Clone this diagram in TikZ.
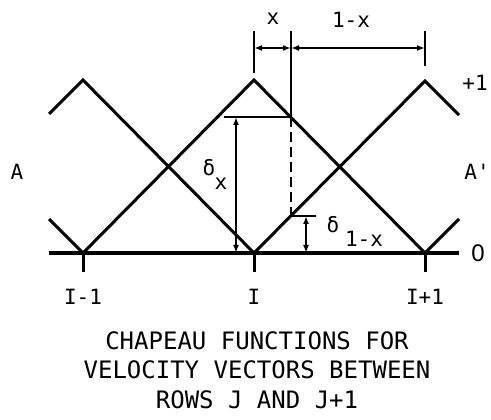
\documentclass[tikz,border=0pt]{standalone}
\usepackage{fontspec}
\setmonofont{DejaVu Sans Mono}
\newfontfamily\plainzero{Liberation Sans}
\usetikzlibrary{arrows.meta}
\begin{document}
\begin{tikzpicture}[x=1pt,y=-1pt,
  hat/.style={line width=3pt,line join=miter},
  dim/.style={line width=2pt},
  tipboth/.style={dim,{Latex[length=8pt,width=6pt]}-{Latex[length=8pt,width=6pt]}},
  lab/.style={font=\ttfamily\fontsize{21}{23}\selectfont,inner sep=0pt},
  captxt/.style={font=\ttfamily\fontsize{24}{29.5}\selectfont,align=center,inner sep=0pt}]
\useasboundingbox (0,0) rectangle (491,420);
% base points
\coordinate (BL) at (49,253);
\coordinate (BR) at (459,253);
\coordinate (Im) at (83,253);
\coordinate (I0) at (254,253);
\coordinate (Ip) at (425,253);
\coordinate (Tm) at (83,80);
\coordinate (T0) at (254,80);
\coordinate (Tp) at (425,81);
\coordinate (LA) at (49,114);
\coordinate (LB) at (49,219);
\coordinate (RA) at (459,115);
\coordinate (RB) at (459,219);
\coordinate (P) at (291,117);
\coordinate (Q) at (291,216);
% baseline and ticks
\draw[line width=3.4pt] (BL) -- (BR);
\foreach \n in {Im,I0,Ip} \draw[line width=3pt] (\n) -- ++(0,19);
% hats
\draw[hat] (LA) -- (Tm) -- (I0);
\draw[hat] (LB) -- (Im);
\draw[hat] (Im) -- (T0) -- (Ip);
\draw[hat] (I0) -- (Tp) -- (RA);
\draw[hat] (Ip) -- (RB);
% construction lines
\coordinate (Ptop) at (291,31);
\coordinate (Pl) at (224,117);
\coordinate (Qr) at (316,216);
\draw[dim] (Ptop) -- (P);
\draw[line width=2.6pt] (Pl) -- (P);
\draw[dim,dashed,dash pattern=on 10pt off 5pt] (P) -- (Q);
\draw[line width=2.6pt] (Q) -- (Qr);
\coordinate (DxB) at (236,253);
\coordinate (DxT) at (236,117);
\draw[tipboth] (DxB) -- (DxT);
\coordinate (D1B) at (306,253);
\coordinate (D1T) at (306,216);
\draw[tipboth] (D1B) -- (D1T);
% top dimension
\coordinate (K0t) at (254,31);
\coordinate (K0b) at (254,73);
\coordinate (Kpt) at (425,31);
\coordinate (Kpb) at (425,66);
\draw[line width=2.6pt] (K0t) -- (K0b);
\draw[line width=2.6pt] (Kpt) -- (Kpb);
\coordinate (DA) at (254,48);
\coordinate (DB) at (291,48);
\coordinate (DC) at (425,48);
\draw[tipboth] (DA) -- (DB);
\draw[tipboth] (DB) -- (DC);
% labels
\node[lab] (lx) at (273,19) {x};
\node[lab] (l1x) at (351,20) {1-x};
\node[lab] (lp1) at (475,83) {+1};
\node[lab] (lA) at (17,172) {A};
\node[lab] (lAp) at (477,172) {A'};
\node[lab,font=\plainzero\fontsize{24}{26}\selectfont] (l0) at (478,253) {0};
\node[lab] (dx) at (209,168) {δ};
\node[lab] (dxs) at (221,184) {x};
\node[lab] (d1) at (333,225) {δ};
\node[lab] (d1s) at (364,239) {1-x};
\node[lab] (tIm) at (83,297) {I-1};
\node[lab] (tI0) at (254,297) {I};
\node[lab] (tIp) at (425,297) {I+1};
\node[captxt] (caption) at (257,370) {CHAPEAU FUNCTIONS FOR\\VELOCITY VECTORS BETWEEN\\ROWS J AND J+1};
\end{tikzpicture}
\end{document}
